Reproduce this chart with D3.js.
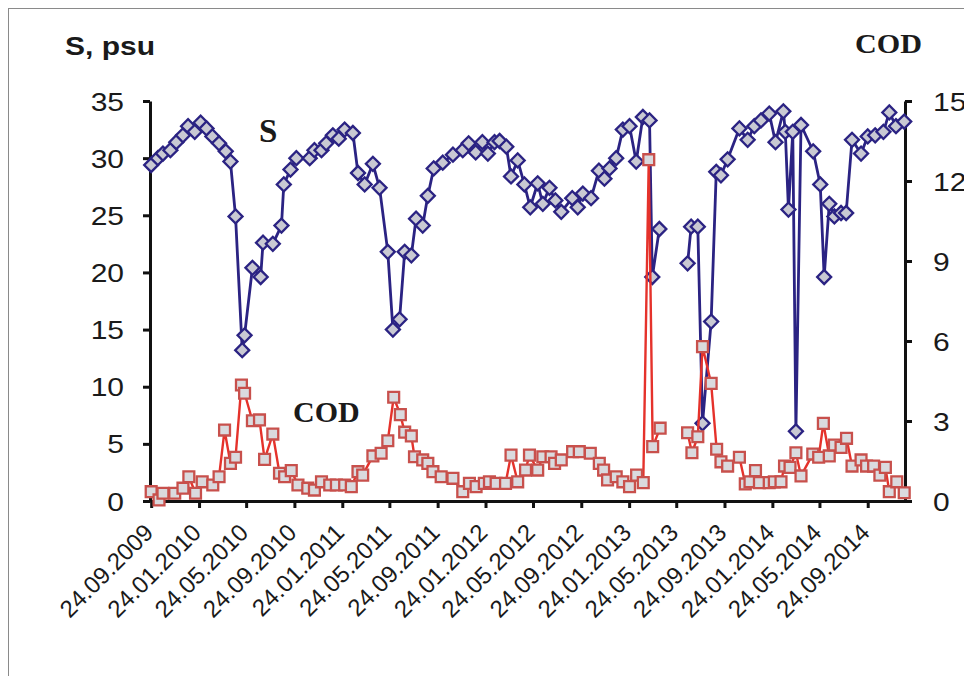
<!DOCTYPE html>
<html>
<head>
<meta charset="utf-8">
<script src="https://cdn.jsdelivr.net/npm/d3@7"></script>
<style>
  body { margin: 0; background: #fff; }
  svg { display: block; }
</style>
</head>
<body>
<div id="chart"></div>
<script>
// salinity (left axis) and COD (right axis), sampling dates
// null = no sampling in spring 2013, the line is broken there
const sDates = [
  "2009-09-24","2009-10-11","2009-10-24","2009-11-12","2009-11-27","2009-12-14","2009-12-27",
  "2010-01-13","2010-01-28","2010-02-12","2010-02-27","2010-03-16","2010-04-02","2010-04-14",
  "2010-04-27","2010-05-14","2010-05-20","2010-06-09","2010-06-30","2010-07-06","2010-07-31",
  "2010-08-22","2010-08-28","2010-09-14","2010-09-29","2010-11-02","2010-11-14","2010-12-02",
  "2010-12-14","2010-12-31","2011-01-15","2011-01-30","2011-02-20","2011-03-05","2011-03-22",
  "2011-04-12","2011-04-29","2011-05-20","2011-06-02","2011-06-19","2011-07-02","2011-07-19",
  "2011-07-31","2011-08-17","2011-08-30","2011-09-14","2011-10-07","2011-11-02","2011-11-27",
  "2011-12-12","2011-12-30","2012-01-16","2012-01-30","2012-02-16","2012-02-29","2012-03-17",
  "2012-03-29","2012-04-15","2012-05-02","2012-05-17","2012-06-05","2012-06-18","2012-07-05",
  "2012-07-20","2012-08-04","2012-09-01","2012-09-15","2012-09-28","2012-10-19","2012-11-08",
  "2012-11-22","2012-12-05","2012-12-22","2013-01-08","2013-01-25","2013-02-11","2013-02-28",
  "2013-03-17","2013-03-24","2013-04-11","2013-05-15",
  "2013-06-22","2013-07-01","2013-07-18","2013-07-30","2013-08-21","2013-09-03","2013-09-15",
  "2013-10-02","2013-11-01","2013-11-22","2013-12-09","2013-12-26","2014-01-16","2014-02-01",
  "2014-02-21","2014-02-26","2014-03-06","2014-03-17","2014-03-25","2014-04-07","2014-05-08",
  "2014-05-26","2014-06-05","2014-06-18","2014-07-01","2014-07-18","2014-07-31","2014-08-15",
  "2014-09-07","2014-09-24","2014-10-13","2014-11-03","2014-11-18","2014-12-05","2014-12-26"
];
const sValues = [
  29.4,30.0,30.4,30.7,31.4,32.0,32.8,
  32.3,33.1,32.6,31.9,31.3,30.6,29.7,
  24.9,13.2,14.5,20.4,19.6,22.6,22.5,
  24.1,27.7,29.0,30.0,30.0,30.7,30.7,
  31.3,32.0,31.7,32.5,32.2,28.7,27.7,
  29.5,27.4,21.8,15.0,15.9,21.8,21.5,
  24.7,24.1,26.7,29.1,29.6,30.3,30.7,
  31.3,30.5,31.4,30.4,31.4,31.5,31.0,
  28.4,29.8,27.7,25.7,27.8,26.0,27.4,
  26.3,25.3,26.5,25.7,26.9,26.5,28.9,
  28.2,29.1,30.0,32.5,32.8,29.7,33.6,
  33.3,19.6,23.8,null,
  20.8,24.0,24.0,6.8,15.7,28.8,28.5,
  29.9,32.6,31.6,32.8,33.3,33.9,31.4,
  34.1,32.3,25.5,32.3,6.1,32.9,30.6,
  27.7,19.6,26.0,24.9,25.2,25.2,31.6,
  30.4,31.9,32.0,32.3,34.0,32.8,33.2
];

const codDates = [
  "2009-09-24","2009-10-14","2009-10-24","2009-11-23","2009-12-14","2009-12-29","2010-01-15",
  "2010-02-01","2010-02-28","2010-03-16","2010-03-30","2010-04-14","2010-04-27","2010-05-12",
  "2010-05-20","2010-06-09","2010-06-27","2010-07-10","2010-07-31","2010-08-17","2010-08-30",
  "2010-09-16","2010-10-03","2010-10-28","2010-11-14","2010-12-02","2010-12-23","2011-01-09",
  "2011-01-30","2011-02-16","2011-03-05","2011-03-17","2011-04-12","2011-05-03","2011-05-20",
  "2011-06-04","2011-06-21","2011-07-02","2011-07-19","2011-07-27","2011-08-17","2011-08-30",
  "2011-09-12","2011-10-03","2011-11-02","2011-11-27","2011-12-14","2011-12-31","2012-01-21",
  "2012-02-03","2012-02-20","2012-03-15","2012-03-29","2012-04-15","2012-05-05","2012-05-15",
  "2012-06-05","2012-06-18","2012-07-09","2012-07-18","2012-08-04","2012-09-02","2012-09-19",
  "2012-10-17","2012-11-09","2012-11-20","2012-11-30","2012-12-22","2013-01-08","2013-01-25",
  "2013-02-12","2013-03-01","2013-03-15","2013-03-25","2013-04-13","2013-05-15",
  "2013-06-22","2013-07-03","2013-07-18","2013-07-30","2013-08-21","2013-09-04","2013-09-15",
  "2013-10-02","2013-11-01","2013-11-16","2013-11-28","2013-12-12","2013-12-22","2014-01-16",
  "2014-01-29","2014-02-15","2014-02-24","2014-03-10","2014-03-25","2014-04-07","2014-05-07",
  "2014-05-22","2014-06-03","2014-06-18","2014-07-01","2014-07-18","2014-08-01","2014-08-15",
  "2014-09-07","2014-09-21","2014-10-09","2014-10-25","2014-11-08","2014-11-18","2014-12-07",
  "2014-12-26"
];
const codValues = [
  0.35,0.04,0.29,0.29,0.48,0.91,0.29,
  0.72,0.60,0.91,2.66,1.41,1.64,4.35,
  4.04,3.01,3.04,1.56,2.51,1.04,0.91,
  1.14,0.60,0.48,0.41,0.72,0.60,0.60,
  0.60,0.54,1.10,0.97,1.69,1.79,2.26,
  3.89,3.24,2.58,2.44,1.66,1.54,1.41,
  1.10,0.91,0.85,0.35,0.66,0.54,0.66,
  0.72,0.66,0.66,1.72,0.72,1.16,1.72,
  1.16,1.66,1.66,1.41,1.54,1.85,1.85,
  1.79,1.41,1.16,0.79,0.91,0.72,0.54,
  0.97,0.69,12.8,2.04,2.73,null,
  2.56,1.81,2.41,5.79,4.41,1.94,1.47,
  1.31,1.64,0.64,0.72,1.14,0.69,0.69,
  0.72,0.72,1.31,1.26,1.81,0.94,1.76,
  1.64,2.91,1.69,2.10,2.01,2.35,1.31,
  1.54,1.31,1.31,0.97,1.26,0.35,0.72,
  0.31
];

const leftTicks = [0, 5, 10, 15, 20, 25, 30, 35];
const rightTicks = [0, 3, 6, 9, 12, 15];
const xTickDates = [
  "2009-09-24","2010-01-24","2010-05-24","2010-09-24","2011-01-24","2011-05-24",
  "2011-09-24","2012-01-24","2012-05-24","2012-09-24","2013-01-24","2013-05-24",
  "2013-09-24","2014-01-24","2014-05-24","2014-09-24"
];

const width = 964;
const height = 676;
const plot = {left: 150, right: 905, top: 101, bottom: 501};
const stretch = 1.2; // the reference text is drawn a little wider than normal

const parse = d3.timeParse("%Y-%m-%d");
const fmt = d3.timeFormat("%d.%m.%Y");

const sData = sDates.map((d, i) => ({date: parse(d), v: sValues[i]}));
const codData = codDates.map((d, i) => ({date: parse(d), v: codValues[i]}));

const svg = d3.select("#chart")
  .append("svg")
  .attr("width", width)
  .attr("height", height);

// outer frame
svg.append("rect")
  .attr("x", 8.5).attr("y", 8.5)
  .attr("width", 1000).attr("height", 1000)
  .attr("fill", "none")
  .attr("stroke", "#8a8a8a")
  .attr("stroke-width", 1);

const x = d3.scaleTime()
  .domain([new Date(2009, 8, 21), new Date(2014, 11, 28)])
  .range([plot.left, plot.right]);

const yLeft = d3.scaleLinear()
  .domain([0, 35])
  .range([plot.bottom, plot.top]);

const yRight = d3.scaleLinear()
  .domain([0, 15])
  .range([plot.bottom, plot.top]);

function styleAxis(g) {
  g.select(".domain").attr("stroke", "#111").attr("stroke-width", 3);
  g.selectAll(".tick line").attr("stroke", "#111").attr("stroke-width", 3);
  g.selectAll(".tick text")
    .attr("fill", "#1a1a1a")
    .attr("font-family", "'Liberation Sans', Arial, sans-serif");
}

function widen(sel, k) {
  sel.each(function() {
    const w = this.getComputedTextLength();
    d3.select(this).attr("textLength", w * k).attr("lengthAdjust", "spacingAndGlyphs");
  });
}

// x axis
const xAxis = svg.append("g")
  .attr("transform", `translate(0,${plot.bottom})`)
  .call(d3.axisBottom(x)
    .tickValues(xTickDates.map(parse))
    .tickFormat(fmt)
    .tickSize(7)
    .tickSizeOuter(0))
  .attr("font-size", "24px");
styleAxis(xAxis);
xAxis.selectAll(".tick text")
  .attr("text-anchor", "end")
  .attr("x", 3)
  .attr("y", 33)
  .attr("dy", 0)
  .attr("transform", "rotate(-45, 3, 33)");

// left axis
const leftAxis = svg.append("g")
  .attr("transform", `translate(${plot.left},0)`)
  .call(d3.axisLeft(yLeft)
    .tickValues(leftTicks)
    .tickSize(7)
    .tickSizeOuter(0)
    .tickPadding(19))
  .attr("font-size", "25px");
styleAxis(leftAxis);
leftAxis.selectAll(".tick text").attr("dy", "0.36em").call(widen, stretch);

// right axis
const rightAxis = svg.append("g")
  .attr("transform", `translate(${plot.right},0)`)
  .call(d3.axisRight(yRight)
    .tickValues(rightTicks)
    .tickSize(7)
    .tickSizeOuter(0)
    .tickPadding(21))
  .attr("font-size", "25px");
styleAxis(rightAxis);
rightAxis.selectAll(".tick text").attr("dy", "0.36em").call(widen, stretch);

// S series
svg.append("path")
  .datum(sData)
  .attr("fill", "none")
  .attr("stroke", "#2b2383")
  .attr("stroke-width", 2.8)
  .attr("stroke-linejoin", "round")
  .attr("d", d3.line()
    .defined(d => d.v != null)
    .x(d => x(d.date))
    .y(d => yLeft(d.v)));

svg.selectAll(".s-mark")
  .data(sData.filter(d => d.v != null))
  .enter()
  .append("path")
    .attr("class", "s-mark")
    .attr("d", d3.symbol(d3.symbolSquare, 98))
    .attr("transform", d => `translate(${x(d.date)},${yLeft(d.v)}) rotate(45)`)
    .attr("fill", "#c9c9d3")
    .attr("stroke", "#2b2383")
    .attr("stroke-width", 2.3);

// COD series
svg.append("path")
  .datum(codData)
  .attr("fill", "none")
  .attr("stroke", "#e5322b")
  .attr("stroke-width", 2.4)
  .attr("stroke-linejoin", "round")
  .attr("d", d3.line()
    .defined(d => d.v != null)
    .x(d => x(d.date))
    .y(d => yRight(d.v)));

svg.selectAll(".cod-mark")
  .data(codData.filter(d => d.v != null))
  .enter()
  .append("path")
    .attr("class", "cod-mark")
    .attr("d", d3.symbol(d3.symbolSquare, 118))
    .attr("transform", d => `translate(${x(d.date)},${yRight(d.v)})`)
    .attr("fill", "#dadade")
    .attr("stroke", "#c8504c")
    .attr("stroke-width", 2.3);

// titles and series labels
svg.append("text")
  .attr("x", 65).attr("y", 55)
  .attr("font-family", "'Liberation Sans', Arial, sans-serif")
  .attr("font-weight", "bold")
  .attr("font-size", "25px")
  .attr("fill", "#1a1a1a")
  .text("S, psu")
  .call(widen, stretch);

svg.append("text")
  .attr("x", 855).attr("y", 53)
  .attr("font-family", "'Liberation Serif', 'Times New Roman', serif")
  .attr("font-weight", "bold")
  .attr("font-size", "27px")
  .attr("fill", "#1a1a1a")
  .attr("textLength", 67)
  .attr("lengthAdjust", "spacingAndGlyphs")
  .text("COD");

svg.append("text")
  .attr("x", 259).attr("y", 142)
  .attr("font-family", "'Liberation Serif', 'Times New Roman', serif")
  .attr("font-weight", "bold")
  .attr("font-size", "33px")
  .attr("fill", "#1a1a1a")
  .text("S");

svg.append("text")
  .attr("x", 293).attr("y", 422)
  .attr("font-family", "'Liberation Serif', 'Times New Roman', serif")
  .attr("font-weight", "bold")
  .attr("font-size", "30px")
  .attr("fill", "#1a1a1a")
  .text("COD");
</script>
</body>
</html>
